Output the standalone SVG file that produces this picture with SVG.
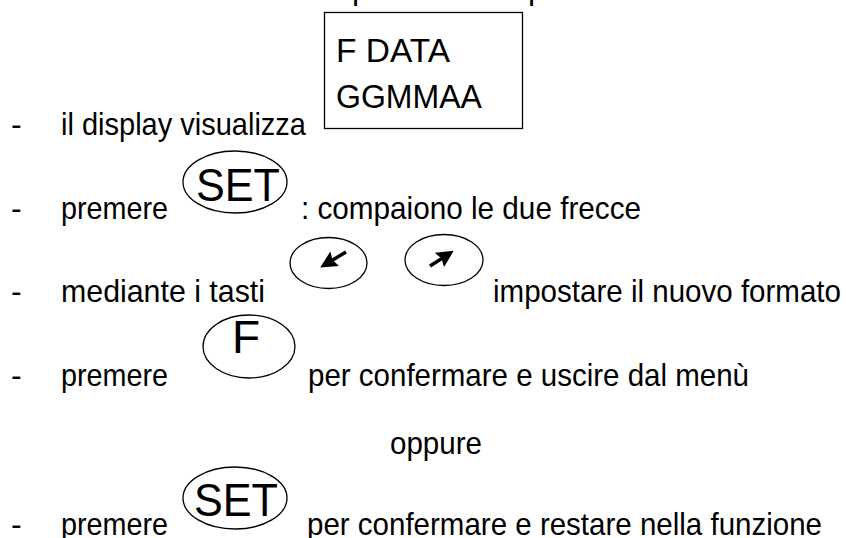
<svg xmlns="http://www.w3.org/2000/svg" width="846" height="538" viewBox="0 0 846 538">
<style>
  .t { font-family: "Liberation Sans", Arial, Helvetica, sans-serif; font-size: 32px; fill: #000; }
  .k { font-family: "Liberation Sans", Arial, Helvetica, sans-serif; font-size: 46px; fill: #000; text-anchor: middle; }
  .b { font-family: "Liberation Sans", Arial, Helvetica, sans-serif; font-size: 33px; fill: #000; }
  .key { fill: none; stroke: #000; stroke-width: 1.3; }
  .box { fill: #fff; stroke: #000; stroke-width: 1.3; }
  .arr { stroke: #000; stroke-width: 3.4; fill: none; marker-end: url(#ah); }
</style>
<defs>
  <marker id="ah" viewBox="0 0 10 10" refX="6" refY="5" markerWidth="5" markerHeight="5" orient="auto" markerUnits="strokeWidth">
    <path d="M0,0 L10,5 L0,10 L1.5,5 z" fill="#000"/>
  </marker>
</defs>
<rect width="846" height="538" fill="#fff"/>

<g id="cutoff-top">
  <text class="t" x="352" y="-1">p</text>
  <text class="t" x="528" y="-1">p</text>
</g>

<g id="display-box">
  <rect class="box" x="324.5" y="12.5" width="198" height="116"/>
  <text class="b" x="336" y="62" textLength="114" lengthAdjust="spacingAndGlyphs">F DATA</text>
  <text class="b" x="336" y="108" textLength="146" lengthAdjust="spacingAndGlyphs">GGMMAA</text>
</g>

<g id="line1">
  <text class="t" x="11" y="135">-</text>
  <text class="t" x="61" y="135" textLength="245" lengthAdjust="spacingAndGlyphs">il display visualizza</text>
</g>

<g id="line2">
  <text class="t" x="11" y="219">-</text>
  <text class="t" x="61" y="219" textLength="107" lengthAdjust="spacingAndGlyphs">premere</text>
  <g id="key-set-1">
    <ellipse class="key" cx="235" cy="182" rx="52" ry="31"/>
    <text class="k" x="238" y="201" textLength="84" lengthAdjust="spacingAndGlyphs">SET</text>
  </g>
  <text class="t" x="301" y="219" textLength="340" lengthAdjust="spacingAndGlyphs">: compaiono le due frecce</text>
</g>

<g id="line3">
  <text class="t" x="11" y="302">-</text>
  <text class="t" x="61" y="302" textLength="204" lengthAdjust="spacingAndGlyphs">mediante i tasti</text>
  <g id="key-left">
    <ellipse class="key" cx="328.5" cy="263" rx="38.5" ry="25.5"/>
    <line class="arr" x1="346" y1="252" x2="326" y2="264"/>
  </g>
  <g id="key-right">
    <ellipse class="key" cx="444" cy="260" rx="39" ry="25.5"/>
    <line class="arr" x1="430" y1="266" x2="448" y2="254.5"/>
  </g>
  <text class="t" x="493" y="302" textLength="348" lengthAdjust="spacingAndGlyphs">impostare il nuovo formato</text>
</g>

<g id="line4">
  <text class="t" x="11" y="386">-</text>
  <text class="t" x="61" y="386" textLength="107" lengthAdjust="spacingAndGlyphs">premere</text>
  <g id="key-f">
    <ellipse class="key" cx="249" cy="346.5" rx="46" ry="31.5"/>
    <text class="k" x="246" y="353">F</text>
  </g>
  <text class="t" x="308" y="386" textLength="441" lengthAdjust="spacingAndGlyphs">per confermare e uscire dal menù</text>
</g>

<g id="line-oppure">
  <text class="t" x="390" y="454" textLength="92" lengthAdjust="spacingAndGlyphs">oppure</text>
</g>

<g id="line5">
  <text class="t" x="11" y="535">-</text>
  <text class="t" x="61" y="535" textLength="107" lengthAdjust="spacingAndGlyphs">premere</text>
  <g id="key-set-2">
    <ellipse class="key" cx="235" cy="498" rx="52" ry="31"/>
    <text class="k" x="236" y="516" textLength="84" lengthAdjust="spacingAndGlyphs">SET</text>
  </g>
  <text class="t" x="307" y="535" textLength="515" lengthAdjust="spacingAndGlyphs">per confermare e restare nella funzione</text>
</g>
</svg>
